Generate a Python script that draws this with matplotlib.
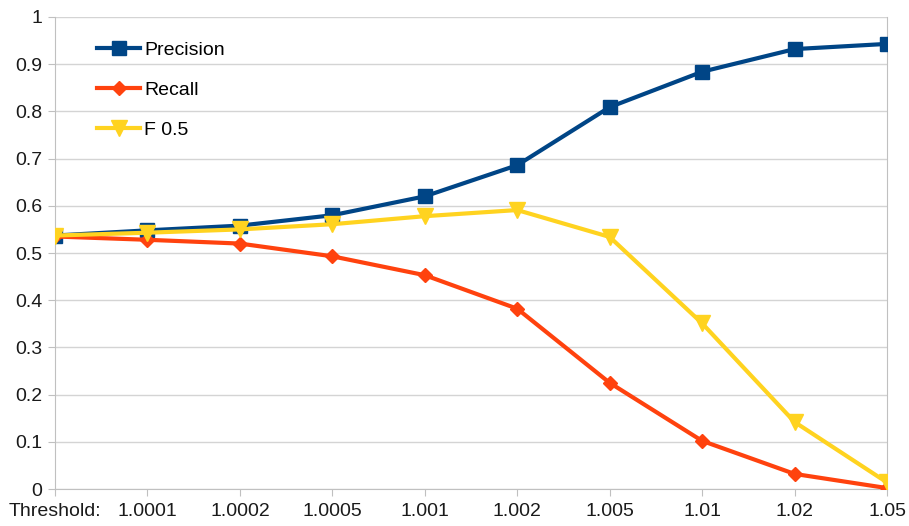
import matplotlib.pyplot as plt

# ---- data ----
thresholds = ["Threshold:", "1.0001", "1.0002", "1.0005", "1.001",
              "1.002", "1.005", "1.01", "1.02", "1.05"]
precision = [0.537, 0.548, 0.558, 0.580, 0.620, 0.686, 0.809, 0.884, 0.932, 0.943]
recall = [0.535, 0.528, 0.520, 0.493, 0.453, 0.382, 0.225, 0.102, 0.032, 0.002]
f05 = [0.537, 0.543, 0.550, 0.561, 0.578, 0.591, 0.534, 0.351, 0.142, 0.014]

plt.rcParams["font.family"] = ["Liberation Sans", "DejaVu Sans"]

fig = plt.figure(figsize=(9.09, 5.26), dpi=100)
ax = fig.add_axes([0.0605, 0.0703, 0.9153, 0.8974])

x = list(range(len(thresholds)))

ax.plot(x, precision, color="#004586", lw=3, marker="s", ms=10,
        label="Precision", zorder=3)
ax.plot(x, recall, color="#ff420e", lw=3, marker="D", ms=7,
        label="Recall", zorder=4)
ax.plot(x, f05, color="#ffd320", lw=3, marker="v", ms=11,
        label="F 0.5", zorder=5)

ax.set_xlim(0, len(thresholds) - 1)
ax.set_ylim(0, 1)
ax.set_xticks(x)
ax.set_xticklabels(thresholds)
ax.set_yticks([i / 10 for i in range(11)])
ax.set_yticklabels(["0", "0.1", "0.2", "0.3", "0.4", "0.5",
                    "0.6", "0.7", "0.8", "0.9", "1"])

ax.grid(axis="y", color="#d4d4d4", lw=1)
ax.set_axisbelow(True)
for side in ["left", "bottom", "right"]:
    ax.spines[side].set_color("#c0c0c0")
ax.spines["top"].set_visible(False)
ax.tick_params(axis="both", colors="#c0c0c0", length=5, labelsize=14,
               labelcolor="#1a1a1a")
ax.tick_params(axis="x", pad=5)
ax.tick_params(axis="y", pad=4)

ax.legend(loc="upper left", bbox_to_anchor=(0.03, 0.985), frameon=False,
          fontsize=14, handlelength=2.2, labelspacing=1.15, handletextpad=0.2)

fig.savefig("out.png", dpi=100)
